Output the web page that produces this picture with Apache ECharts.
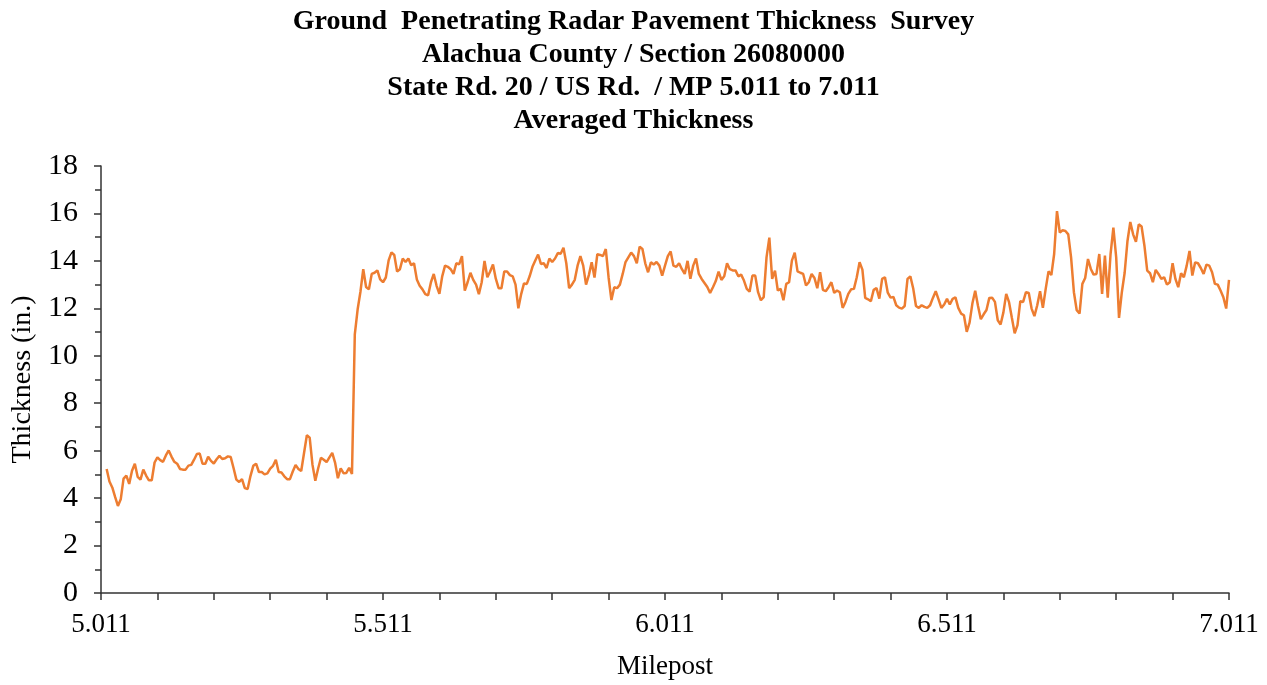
<!DOCTYPE html>
<html>
<head>
<meta charset="utf-8">
<script src="https://cdn.jsdelivr.net/npm/echarts@6/dist/echarts.min.js"></script>
<style>html,body{margin:0;padding:0;background:#fff;}#chart{width:1267px;height:685px;}</style>
</head>
<body>
<div id="chart"></div>
<script>
// Survey start / sampling of the averaged thickness record
const MP_AXIS_START = 5.011;
const MP_AXIS_END = 7.011;
const MP_FIRST_SAMPLE = 5.021;
const MP_STEP = 0.005;
const xTickLabels = ['5.011', '5.511', '6.011', '6.511', '7.011'];
const yTickLabels = ['0','2','4','6','8','10','12','14','16','18'];

// Averaged thickness (in.)
const thickness = [
5.23,4.7,4.45,4.05,3.67,3.95,4.82,4.95,4.6,5.15,5.45,4.9,4.78,5.2,4.95,4.75,4.75,5.5,5.72,5.6,
5.53,5.8,6.01,5.75,5.53,5.45,5.23,5.2,5.2,5.37,5.4,5.62,5.86,5.88,5.45,5.45,5.74,5.57,5.46,5.64,
5.78,5.65,5.68,5.76,5.73,5.27,4.78,4.68,4.8,4.42,4.38,4.93,5.36,5.45,5.1,5.1,5.0,5.04,5.24,5.36,
5.62,5.1,5.08,4.92,4.8,4.8,5.12,5.4,5.23,5.14,5.9,6.65,6.55,5.4,4.73,5.25,5.7,5.62,5.52,5.72,
5.91,5.5,4.84,5.25,5.05,5.06,5.28,5.02,10.9,11.95,12.7,13.65,12.9,12.8,13.45,13.5,13.6,13.22,13.1,13.3,
14.02,14.36,14.25,13.55,13.65,14.1,13.95,14.1,13.82,13.9,13.22,12.95,12.8,12.6,12.55,13.1,13.45,12.95,12.61,13.35,
13.8,13.75,13.65,13.45,13.9,13.85,14.2,12.75,13.1,13.5,13.2,13.0,12.6,13.1,14.0,13.31,13.55,13.85,13.25,12.85,
12.85,13.55,13.55,13.4,13.35,13.0,12.0,12.6,13.05,13.03,13.35,13.75,14.02,14.27,13.87,13.9,13.7,14.1,13.95,14.1,
14.33,14.3,14.55,13.9,12.85,13.0,13.2,13.8,14.2,13.8,13.0,13.4,13.94,13.3,14.28,14.25,14.2,14.5,13.3,12.35,
12.89,12.85,13.0,13.45,13.95,14.15,14.35,14.2,13.9,14.6,14.5,13.9,13.52,13.94,13.85,13.95,13.8,13.38,13.8,14.2,
14.4,13.8,13.75,13.9,13.65,13.45,14.0,13.25,13.8,14.1,13.45,13.24,13.07,12.9,12.65,12.89,13.15,13.55,13.2,13.35,
13.9,13.65,13.6,13.6,13.35,13.42,13.17,12.82,12.7,13.38,13.38,12.68,12.34,12.47,14.15,14.98,13.24,13.59,12.75,12.82,
12.34,13.03,13.1,14.01,14.35,13.56,13.5,13.45,12.96,13.1,13.45,13.28,12.85,13.52,12.78,12.72,12.89,13.1,12.65,12.75,
12.68,12.02,12.27,12.61,12.8,12.82,13.31,13.94,13.63,12.44,12.38,12.3,12.78,12.85,12.41,13.24,13.31,12.66,12.45,12.48,
12.13,12.03,11.99,12.1,13.24,13.35,12.85,12.1,12.02,12.13,12.06,12.02,12.13,12.44,12.72,12.38,12.02,12.16,12.4,12.16,
12.4,12.46,12.02,11.78,11.71,11.01,11.4,12.2,12.74,12.1,11.54,11.75,11.93,12.44,12.45,12.27,11.5,11.32,11.83,12.61,
12.26,11.6,10.95,11.29,12.3,12.27,12.68,12.65,11.99,11.67,12.13,12.72,12.02,12.82,13.56,13.4,14.29,16.1,15.19,15.29,
15.26,15.12,14.15,12.68,11.92,11.78,13.03,13.28,14.08,13.66,13.42,13.45,14.29,12.61,14.22,12.45,14.29,15.4,14.15,11.6,
12.68,13.5,14.84,15.64,15.12,14.8,15.54,15.45,14.65,13.59,13.48,13.1,13.62,13.45,13.24,13.31,13.0,13.1,13.9,13.24,
12.89,13.48,13.31,13.8,14.42,13.38,13.94,13.9,13.7,13.45,13.84,13.8,13.52,13.03,13.0,12.75,12.47,11.99,13.2
];
const mileposts = thickness.map((_, i) => +(MP_FIRST_SAMPLE + i * MP_STEP).toFixed(3));

const FONT = 'Liberation Serif';
const seriesData = mileposts.map((m, i) => [m - MP_AXIS_START, thickness[i]]);

const chart = echarts.init(document.getElementById('chart'), null, {renderer: 'canvas'});
chart.setOption({
  animation: false,
  backgroundColor: '#ffffff',
  title: {
    text: 'Ground  Penetrating Radar Pavement Thickness  Survey\nAlachua County / Section 26080000\nState Rd. 20 / US Rd.  / MP 5.011 to 7.011\nAveraged Thickness',
    left: 'center',
    top: 0,
    textStyle: {fontFamily: FONT, fontWeight: 'bold', fontSize: 28, lineHeight: 33, color: '#000'}
  },
  grid: {left: 101, right: 38, top: 166, bottom: 88, containLabel: false},
  xAxis: {
    type: 'value',
    min: 0,
    max: MP_AXIS_END - MP_AXIS_START,
    interval: 0.5,
    name: 'Milepost',
    nameLocation: 'middle',
    nameGap: 60,
    nameTextStyle: {fontFamily: FONT, fontSize: 27, color: '#000'},
    axisLine: {show: true, onZero: false, lineStyle: {color: '#333', width: 1.5}},
    axisTick: {show: true, inside: false, length: 7, lineStyle: {color: '#333', width: 1.5}},
    minorTick: {show: true, splitNumber: 5, length: 7, lineStyle: {color: '#333', width: 1.5}},
    splitLine: {show: false},
    axisLabel: {
      margin: 18,
      fontFamily: FONT, fontSize: 27, color: '#000',
      formatter: v => xTickLabels[Math.round(v / 0.5)] ?? ''
    }
  },
  yAxis: {
    type: 'value',
    min: 0,
    max: 18,
    interval: 2,
    name: 'Thickness (in.)',
    nameLocation: 'middle',
    nameGap: 60,
    nameTextStyle: {fontFamily: FONT, fontSize: 28, color: '#000'},
    axisLine: {show: true, lineStyle: {color: '#333', width: 1.5}},
    axisTick: {show: true, inside: false, length: 7, lineStyle: {color: '#333', width: 1.5}},
    minorTick: {show: true, splitNumber: 2, length: 6, lineStyle: {color: '#333', width: 1.5}},
    splitLine: {show: false},
    axisLabel: {
      margin: 23,
      fontFamily: FONT, fontSize: 30, color: '#000',
      formatter: v => yTickLabels[Math.round(v / 2)] ?? ''
    }
  },
  series: [{
    type: 'line',
    data: seriesData,
    showSymbol: false,
    symbol: 'none',
    lineStyle: {color: '#ED7D31', width: 2.5},
    itemStyle: {color: '#ED7D31'}
  }]
});
</script>
</body>
</html>
